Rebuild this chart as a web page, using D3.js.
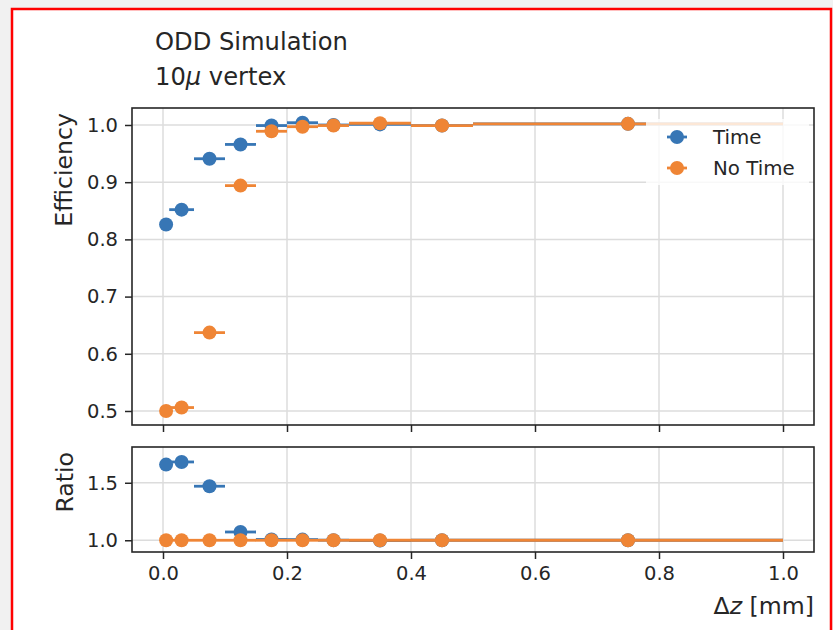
<!DOCTYPE html>
<style>
  body { margin: 0; background: #f1f1f1; }
  svg { display: block; font-family: 'DejaVu Sans', sans-serif; }
  .grid line { stroke: #dcdcdc; stroke-width: 1.5; }
  .axis path { display: none; }
  .axis line { stroke: #262626; stroke-width: 1.5; }
  .axis text { font-size: 19.5px; fill: #262626; font-family: 'DejaVu Sans', sans-serif; }
  .frame { fill: none; stroke: #262626; stroke-width: 1.6; }
  .label { font-size: 23.6px; fill: #262626; }
  .title { font-size: 24.2px; fill: #262626; }
  .legend text { font-size: 19.8px; fill: #262626; }
</style>
<body>
</body>
<script src="https://cdn.jsdelivr.net/npm/d3@7"></script>
<script>
  // bins in delta z [mm]
  const binLo  = [0.00, 0.01, 0.05, 0.10, 0.15, 0.20, 0.25, 0.30, 0.40, 0.50];
  const binHi  = [0.01, 0.05, 0.10, 0.15, 0.20, 0.25, 0.30, 0.40, 0.50, 1.00];
  const binMid = [0.005, 0.03, 0.075, 0.125, 0.175, 0.225, 0.275, 0.35, 0.45, 0.75];

  const effTime   = [0.826, 0.852, 0.941, 0.966, 0.999, 1.004, 1.000, 1.001, 0.999, 1.002];
  const effNoTime = [0.500, 0.506, 0.637, 0.894, 0.989, 0.997, 0.999, 1.003, 0.999, 1.002];

  const ratioTime   = [1.658, 1.681, 1.470, 1.072, 1.007, 1.006, 1.001, 0.997, 1.000, 1.000];
  const ratioNoTime = [1, 1, 1, 1, 1, 1, 1, 1, 1, 1];

  const seriesNames = ['Time', 'No Time'];
  const colors = ['#3776b5', '#ef8535'];

  const xTicks = [0, 0.2, 0.4, 0.6, 0.8, 1.0];
  const effTicks = [0.5, 0.6, 0.7, 0.8, 0.9, 1.0];
  const ratioTicks = [1.0, 1.5];

  const w = 833, h = 630;
  const l = 132, r = 814;
  const effBox = {t: 108, b: 425}, ratioBox = {t: 447, b: 552};

  const svg = d3.select('body').append('svg')
    .attr('width', w)
    .attr('height', h);

  // page frame
  svg.append('rect')
    .attr('x', 12).attr('y', 9)
    .attr('width', 819).attr('height', 700)
    .attr('fill', 'white')
    .attr('stroke', '#ff0000')
    .attr('stroke-width', 2.5);

  const x = d3.scaleLinear().domain([-0.05, 1.05]).range([l, r]);
  const yEff = d3.scaleLinear().domain([0.4755, 1.0297]).range([effBox.b, effBox.t]);
  const yRat = d3.scaleLinear().domain([0.898, 1.811]).range([ratioBox.b, ratioBox.t]);

  function panel(y, box, yTicks, xLabels, data) {
    const g = svg.append('g');

    const grid = g.append('g').attr('class', 'grid');
    grid.selectAll('line.v')
      .data(xTicks)
      .join('line').attr('class', 'v')
      .attr('x1', d => x(d)).attr('x2', d => x(d))
      .attr('y1', box.t).attr('y2', box.b);
    grid.selectAll('line.h')
      .data(yTicks)
      .join('line').attr('class', 'h')
      .attr('x1', l).attr('x2', r)
      .attr('y1', d => y(d)).attr('y2', d => y(d));

    // series: error bars, then markers, later series on top
    data.forEach((vals, s) => {
      const sg = g.append('g');
      sg.selectAll('line')
        .data(vals)
        .join('line')
        .attr('x1', (d, i) => x(binLo[i]))
        .attr('x2', (d, i) => x(binHi[i]))
        .attr('y1', d => y(d)).attr('y2', d => y(d))
        .attr('stroke', colors[s])
        .attr('stroke-width', 2.8);
      sg.selectAll('circle')
        .data(vals)
        .join('circle')
        .attr('cx', (d, i) => x(binMid[i]))
        .attr('cy', d => y(d))
        .attr('r', 7)
        .attr('fill', colors[s]);
    });

    g.append('g')
      .attr('class', 'axis')
      .attr('transform', `translate(${l}, 0)`)
      .call(d3.axisLeft(y)
              .tickValues(yTicks)
              .tickSize(7)
              .tickPadding(7)
              .tickFormat(d3.format('.1f')));

    g.append('g')
      .attr('class', 'axis')
      .attr('transform', `translate(0, ${box.b})`)
      .call(d3.axisBottom(x)
              .tickValues(xTicks)
              .tickSize(7)
              .tickPadding(7)
              .tickFormat(xLabels ? d3.format('.1f') : ''));

    g.append('rect')
      .attr('class', 'frame')
      .attr('x', l).attr('y', box.t)
      .attr('width', r - l).attr('height', box.b - box.t);
    return g;
  }

  panel(yEff, effBox, effTicks, false, [effTime, effNoTime]);
  panel(yRat, ratioBox, ratioTicks, true, [ratioTime, ratioNoTime]);

  // legend
  const legend = svg.append('g').attr('class', 'legend');
  legend.append('rect')
    .attr('x', 646).attr('y', 119)
    .attr('width', 163).attr('height', 66)
    .attr('fill', 'white').attr('fill-opacity', 0.8);
  const items = legend.selectAll('g.item')
    .data(seriesNames)
    .join('g').attr('class', 'item')
    .attr('transform', (d, i) => `translate(677, ${137 + i * 31})`);
  items.append('line')
    .attr('x1', -10).attr('x2', 10)
    .attr('stroke', (d, i) => colors[i])
    .attr('stroke-width', 2.8);
  items.append('circle')
    .attr('r', 7)
    .attr('fill', (d, i) => colors[i]);
  items.append('text')
    .attr('x', 36).attr('y', 7)
    .text(d => d);

  // titles
  svg.append('text').attr('class', 'title')
    .attr('x', 155).attr('y', 50)
    .text('ODD Simulation');
  svg.append('text').attr('class', 'title')
    .attr('x', 155).attr('y', 85)
    .call(t => t.append('tspan').text('10'))
    .call(t => t.append('tspan').attr('font-style', 'italic').text('\u03bc'))
    .call(t => t.append('tspan').text(' vertex'));

  // axis labels
  svg.append('text').attr('class', 'label')
    .attr('transform', `translate(72, ${effBox.t + 5}) rotate(-90)`)
    .attr('text-anchor', 'end')
    .text('Efficiency');
  svg.append('text').attr('class', 'label')
    .attr('transform', `translate(73, ${ratioBox.t + 5}) rotate(-90)`)
    .attr('text-anchor', 'end')
    .text('Ratio');
  svg.append('text').attr('class', 'label')
    .attr('x', r).attr('y', 614)
    .attr('text-anchor', 'end')
    .call(t => t.append('tspan').text('\u0394'))
    .call(t => t.append('tspan').attr('font-style', 'italic').text('z'))
    .call(t => t.append('tspan').text(' [mm]'));
</script>
